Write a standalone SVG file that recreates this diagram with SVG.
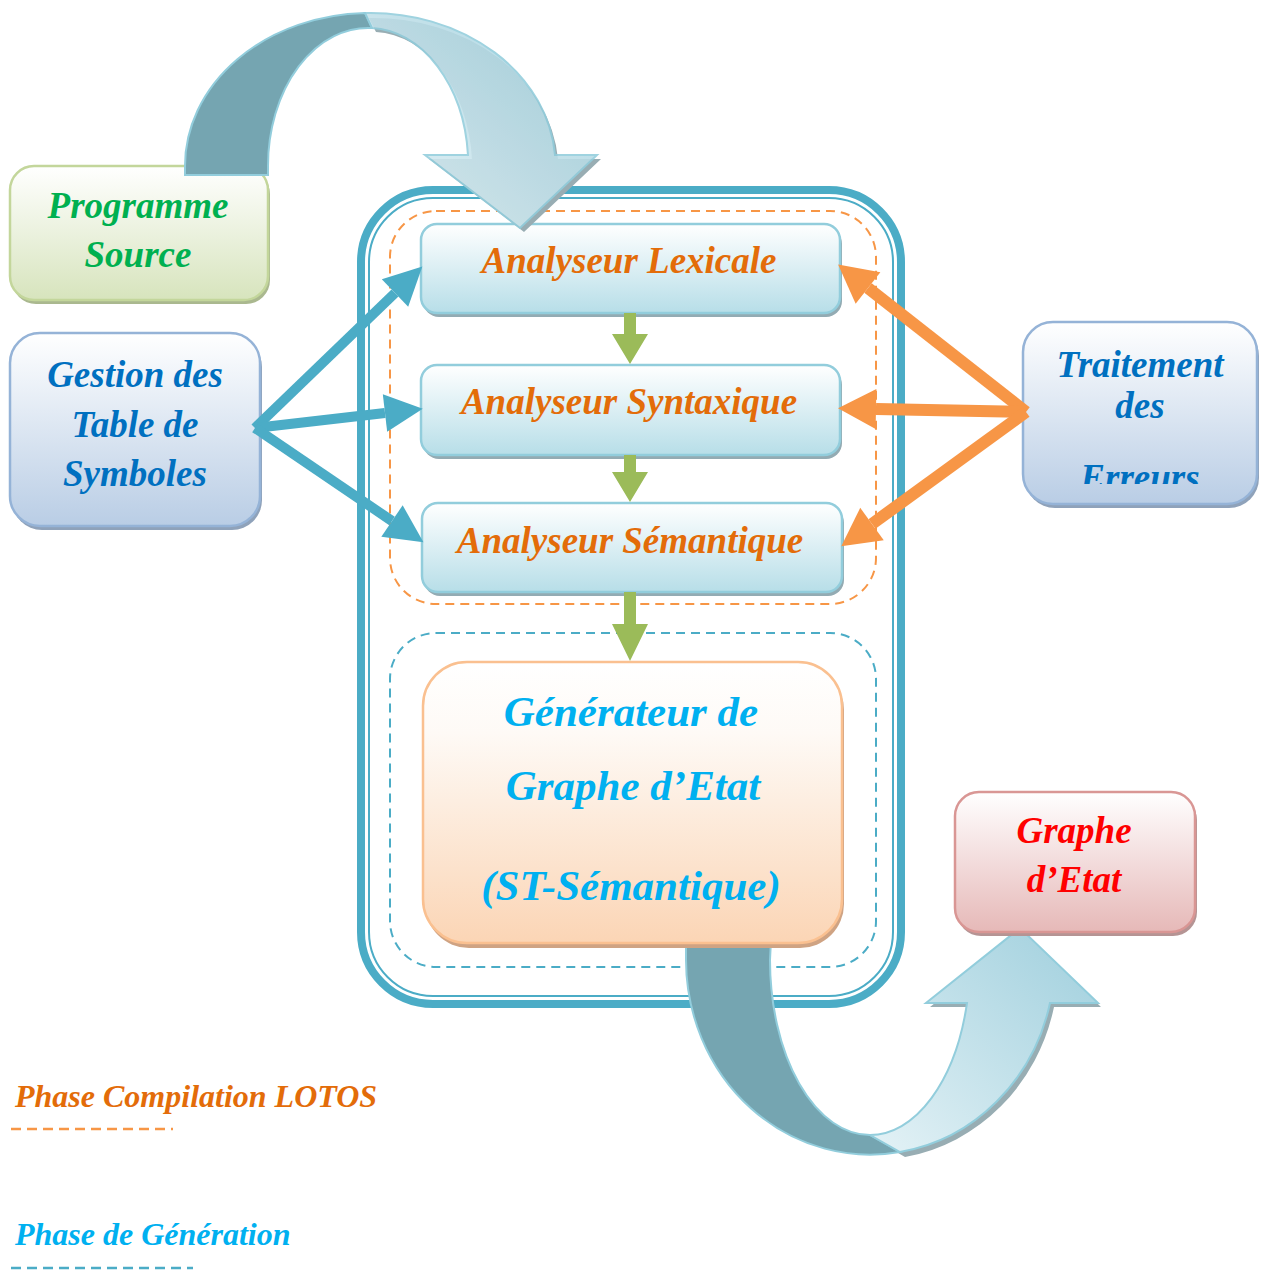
<svg xmlns="http://www.w3.org/2000/svg" width="1262" height="1270" viewBox="0 0 1262 1270">
  <style>
    .t { font-family: "Liberation Serif", "Times New Roman", serif; font-weight: bold; font-style: italic; text-anchor: middle; }
    .box { stroke-width: 2.5; }
    .orange { fill: #e36c09; }
    .blue { fill: #0070c0; }
    .cyan { fill: #00b0f0; }
    .green { fill: #00b050; }
    .red { fill: #ff0000; }
    .bandDark { fill: #75a5b1; stroke: #92cddc; stroke-width: 2; }
    .bandLight { fill: url(#gArrow); stroke: #92cddc; stroke-width: 2; }
    .bandShadow { fill: #98adb3; }
  </style>
  <defs>
    <linearGradient id="gGreen" x1="0" y1="0" x2="0" y2="1">
      <stop offset="0" stop-color="#ffffff"/>
      <stop offset="1" stop-color="#d7e4bd"/>
    </linearGradient>
    <linearGradient id="gBlue" x1="0" y1="0" x2="0" y2="1">
      <stop offset="0" stop-color="#ffffff"/>
      <stop offset="1" stop-color="#b9cde5"/>
    </linearGradient>
    <linearGradient id="gAqua" x1="0" y1="0" x2="0" y2="1">
      <stop offset="0" stop-color="#ffffff"/>
      <stop offset="1" stop-color="#b7dee8"/>
    </linearGradient>
    <linearGradient id="gPeach" x1="0" y1="0" x2="0" y2="1">
      <stop offset="0" stop-color="#ffffff"/>
      <stop offset="0.25" stop-color="#fefaf6"/>
      <stop offset="1" stop-color="#fbd5b5"/>
    </linearGradient>
    <linearGradient id="gRed" x1="0" y1="0" x2="0" y2="1">
      <stop offset="0" stop-color="#ffffff"/>
      <stop offset="1" stop-color="#e6b9b8"/>
    </linearGradient>
    <linearGradient id="gArrow" x1="1" y1="0" x2="0" y2="1">
      <stop offset="0" stop-color="#9fcfdd"/>
      <stop offset="1" stop-color="#e4f2f6"/>
    </linearGradient>
    <marker id="headBlue" markerUnits="userSpaceOnUse" markerWidth="40" markerHeight="42" viewBox="0 -21 40 42" refX="0" refY="0" orient="auto" overflow="visible">
      <path d="M0,-19 L38,0 L0,19 Z" fill="#4bacc6"/>
    </marker>
    <marker id="headOrange" markerUnits="userSpaceOnUse" markerWidth="40" markerHeight="42" viewBox="0 -21 40 42" refX="0" refY="0" orient="auto" overflow="visible">
      <path d="M0,-20 L38,0 L0,20 Z" fill="#f79646"/>
    </marker>
    <clipPath id="clipErreurs">
      <rect x="1020" y="440" width="240" height="44"/>
    </clipPath>
  </defs>

  <!-- outer double-framed container -->
  <g id="container">
    <rect x="361" y="190" width="540" height="814" rx="72" fill="#ffffff" stroke="#4bacc6" stroke-width="8"/>
    <rect x="369" y="198" width="524" height="798" rx="64" fill="none" stroke="#4bacc6" stroke-width="2"/>
  </g>

  <!-- phase frames -->
  <g id="phase-compilation-frame">
    <rect x="390" y="211" width="486" height="393" rx="46" fill="none" stroke="#f79646" stroke-width="2" stroke-dasharray="9 6"/>
  </g>
  <g id="phase-generation-frame">
    <rect x="390" y="633" width="486" height="334" rx="46" fill="none" stroke="#4bacc6" stroke-width="2" stroke-dasharray="9 6"/>
  </g>

  <!-- curved arrow from the generator to the output graph -->
  <g id="arrow-out">
    <path class="bandShadow" d="M905,1157 A184 195 0 0 0 1054,1007 L1101,1007 L1024,932 L930,1007 L971,1007 A100 175 0 0 1 874,1139 Z"/>
    <path class="bandDark" d="M686,940 L686,960 A184 195 0 0 0 900,1152 L870,1135 A100 175 0 0 1 770,960 L771,940 Z"/>
    <path class="bandLight" d="M900,1152 A184 195 0 0 0 1050,1003 L1098,1003 L1020,928 L926,1003 L967,1003 A100 175 0 0 1 870,1135 Z"/>
  </g>

  <!-- nodes -->
  <g id="node-programme-source">
    <rect x="12" y="170" width="258" height="134" rx="24" fill="#aab88f"/>
    <rect class="box" x="10" y="166" width="258" height="134" rx="24" fill="url(#gGreen)" stroke="#c3d69b"/>
    <text class="t green" x="138" y="218" font-size="37">Programme</text>
    <text class="t green" x="138" y="267" font-size="37">Source</text>
  </g>

  <g id="node-gestion">
    <rect x="12" y="337" width="250" height="193" rx="30" fill="#8fa2ba"/>
    <rect class="box" x="10" y="333" width="250" height="193" rx="30" fill="url(#gBlue)" stroke="#95b3d7"/>
    <text class="t blue" x="135" y="387" font-size="37">Gestion des</text>
    <text class="t blue" x="135" y="437" font-size="37">Table de</text>
    <text class="t blue" x="135" y="486" font-size="37">Symboles</text>
  </g>

  <g id="node-traitement">
    <rect x="1025" y="326" width="234" height="182" rx="30" fill="#8fa2ba"/>
    <rect class="box" x="1023" y="322" width="234" height="182" rx="30" fill="url(#gBlue)" stroke="#95b3d7"/>
    <text class="t blue" x="1140" y="377" font-size="37">Traitement</text>
    <text class="t blue" x="1140" y="418" font-size="37">des</text>
    <text class="t blue" x="1140" y="490" font-size="37" clip-path="url(#clipErreurs)">Erreurs</text>
  </g>

  <g id="node-lexicale">
    <rect x="423" y="228" width="419" height="89" rx="16" fill="#93abb3"/>
    <rect class="box" x="421" y="224" width="419" height="89" rx="16" fill="url(#gAqua)" stroke="#92cddc"/>
    <text class="t orange" x="629" y="273" font-size="37">Analyseur Lexicale</text>
  </g>

  <g id="node-syntaxique">
    <rect x="423" y="369" width="419" height="90" rx="16" fill="#93abb3"/>
    <rect class="box" x="421" y="365" width="419" height="90" rx="16" fill="url(#gAqua)" stroke="#92cddc"/>
    <text class="t orange" x="629" y="414" font-size="37">Analyseur Syntaxique</text>
  </g>

  <g id="node-semantique">
    <rect x="424" y="507" width="420" height="89" rx="16" fill="#93abb3"/>
    <rect class="box" x="422" y="503" width="420" height="89" rx="16" fill="url(#gAqua)" stroke="#92cddc"/>
    <text class="t orange" x="630" y="553" font-size="37">Analyseur Sémantique</text>
  </g>

  <g id="node-generateur">
    <rect x="425" y="666" width="419" height="282" rx="44" fill="#cfa383"/>
    <rect class="box" x="423" y="662" width="419" height="281" rx="44" fill="url(#gPeach)" stroke="#fac090"/>
    <text class="t cyan" x="631" y="726" font-size="43">Générateur de</text>
    <text class="t cyan" x="633" y="800" font-size="43">Graphe d’Etat</text>
    <text class="t cyan" x="631" y="900" font-size="43">(ST-Sémantique)</text>
  </g>

  <g id="node-graphe-etat">
    <rect x="957" y="796" width="240" height="140" rx="24" fill="#b59494"/>
    <rect class="box" x="955" y="792" width="240" height="140" rx="24" fill="url(#gRed)" stroke="#d99694"/>
    <text class="t red" x="1074" y="843" font-size="37">Graphe</text>
    <text class="t red" x="1074" y="892" font-size="37">d’Etat</text>
  </g>

  <!-- curved arrow from the source program into the analysers -->
  <g id="arrow-in">
    <path class="bandShadow" d="M369,18 A185 153 0 0 1 558,159 L601,159 L524,232 L429,159 L472,159 A100 138 0 0 0 376,32 Z"/>
    <path class="bandDark" d="M185,175 L185,166 A185 153 0 0 1 365,13 L372,28 A100 138 0 0 0 268,166 L268,175 Z"/>
    <path class="bandLight" opacity="0.88" d="M365,13 A185 153 0 0 1 555,155 L597,155 L520,228 L425,155 L468,155 A100 138 0 0 0 372,28 Z"/>
  </g>

  <!-- connectors -->
  <g id="connectors">
    <!-- pipeline flow -->
    <g fill="#9bbb59">
      <polygon points="624,313 636,313 636,334 648,334 630,364 612,334 624,334"/>
      <polygon points="624,455 636,455 636,472 648,472 630,502 612,472 624,472"/>
      <polygon points="624,592 636,592 636,624 648,624 630,661 612,624 624,624"/>
    </g>
    <!-- symbol table links -->
    <g stroke="#4bacc6" stroke-width="10" fill="none" marker-end="url(#headBlue)">
      <line x1="255" y1="428" x2="395" y2="293"/>
      <line x1="255" y1="428" x2="385" y2="413"/>
      <line x1="255" y1="428" x2="392" y2="521"/>
    </g>
    <!-- error handling links -->
    <g stroke="#f79646" stroke-width="12" fill="none" marker-end="url(#headOrange)">
      <line x1="1026" y1="412" x2="868" y2="288"/>
      <line x1="1026" y1="412" x2="876" y2="409"/>
      <line x1="1026" y1="412" x2="872" y2="524"/>
    </g>
  </g>

  <!-- legend -->
  <g id="legend">
    <text class="t orange" x="15" y="1107" font-size="32" style="text-anchor:start">Phase Compilation LOTOS</text>
    <line x1="11" y1="1129" x2="173" y2="1129" stroke="#f79646" stroke-width="2.5" stroke-dasharray="10 6"/>
    <text class="t cyan" x="15" y="1245" font-size="32" style="text-anchor:start">Phase de Génération</text>
    <line x1="11" y1="1268" x2="193" y2="1268" stroke="#4bacc6" stroke-width="2.5" stroke-dasharray="10 6"/>
  </g>
</svg>
